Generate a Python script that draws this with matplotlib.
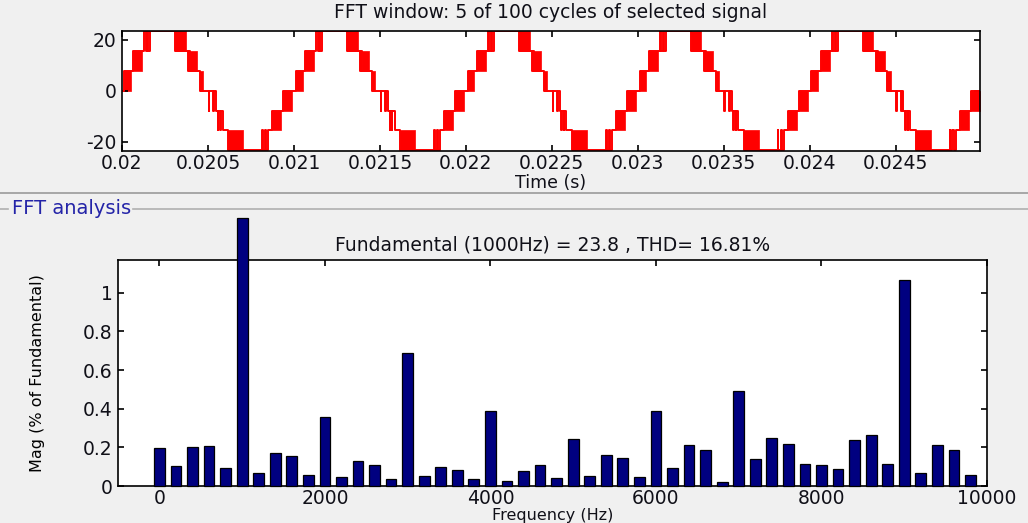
import matplotlib
matplotlib.use("Agg")
import matplotlib.pyplot as plt
from matplotlib.lines import Line2D
import numpy as np

# ---------------- data ----------------
# Top: one cycle of the multilevel PWM waveform (phase within cycle, level after switch)
step_phase = [0.000, 0.010, 0.065, 0.130, 0.137, 0.147, 0.153, 0.165, 0.307, 0.383,
              0.391, 0.395, 0.452, 0.504, 0.508, 0.529, 0.536, 0.545, 0.556, 0.560,
              0.569, 0.573, 0.585, 0.619, 0.814, 0.818, 0.830, 0.840, 0.849, 0.874,
              0.935, 0.988]
step_level = [0, 7.8, 15.6, 23.4, 15.6, 23.4, 15.6, 23.4, 15.6, 7.8,
              15.6, 7.8, 0, -7.8, 0, -7.8, 0, -7.8, -15.6, -7.8,
              -15.6, -7.8, -15.6, -23.4, -15.6, -23.4, -15.6, -23.4, -15.6, -7.8,
              0, 0]
# dense-switching bands (phase start, phase end, low level, high level)
block_start = [0.010, 0.065, 0.307, 0.395, 0.452, 0.619, 0.874, 0.935]
block_end   = [0.050, 0.115, 0.370, 0.437, 0.471, 0.705, 0.925, 0.988]
block_low   = [0.0, 7.8, 15.6, 7.8, 0.0, -23.4, -15.6, -7.8]
block_high  = [7.8, 15.6, 23.4, 15.6, 7.8, -15.6, -7.8, 0.0]
t_start = 0.02
cycle_period = 0.001
n_cycles = 5
time_ticks = [0.02, 0.0205, 0.021, 0.0215, 0.022, 0.0225, 0.023, 0.0235, 0.024, 0.0245]
time_tick_labels = ["0.02", "0.0205", "0.021", "0.0215", "0.022", "0.0225",
                    "0.023", "0.0235", "0.024", "0.0245"]

# Bottom: harmonic spectrum
freqs = list(range(0, 10000, 200))
mags = [0.195, 0.104, 0.200, 0.207, 0.093, 1.385, 0.066, 0.173, 0.155, 0.059,
        0.359, 0.048, 0.128, 0.111, 0.038, 0.691, 0.054, 0.098, 0.083, 0.038,
        0.389, 0.024, 0.076, 0.111, 0.043, 0.242, 0.054, 0.162, 0.145, 0.048,
        0.389, 0.093, 0.212, 0.185, 0.019, 0.492, 0.140, 0.247, 0.218, 0.116,
        0.111, 0.088, 0.237, 0.264, 0.116, 1.066, 0.066, 0.212, 0.185, 0.059]
freq_ticks = [0, 2000, 4000, 6000, 8000, 10000]
mag_ticks = [0, 0.2, 0.4, 0.6, 0.8, 1.0]
mag_tick_labels = ["0", "0.2", "0.4", "0.6", "0.8", "1"]

# ---------------- figure ----------------
plt.rcParams['font.family'] = ['DejaVu Sans']
W, H = 1028, 523
fig = plt.figure(figsize=(W / 100, H / 100), dpi=100, facecolor='#f0f0f0')
txt = '#101018'
fs = 13.5

def frac(x0, y0, x1, y1):
    return [x0 / W, 1 - y1 / H, (x1 - x0) / W, (y1 - y0) / H]

# ---- top axes ----
ax1 = fig.add_axes(frac(122, 31, 980, 151))
ax1.set_facecolor('white')
tt, yy = [], []
for c in range(n_cycles):
    for p, lv in zip(step_phase, step_level):
        tt.append(t_start + (c + p) * cycle_period)
        yy.append(lv)
tt.append(t_start + n_cycles * cycle_period)
yy.append(step_level[-1])
ax1.plot(tt, yy, drawstyle='steps-post', color='red', lw=1.4)
for c in range(n_cycles):
    for b0, b1, lo, hi in zip(block_start, block_end, block_low, block_high):
        ta = t_start + (c + b0) * cycle_period
        tb = t_start + (c + b1) * cycle_period
        ax1.fill_between([ta, tb], [lo, lo], [hi, hi], color='red', lw=0.5,
                         edgecolor='red')
ax1.set_xlim(0.02, 0.02499)
ax1.set_ylim(-23.7, 23.5)
ax1.set_xticks(time_ticks)
ax1.set_xticklabels(time_tick_labels)
ax1.set_yticks([-20, 0, 20])
ax1.set_yticklabels(["-20", "0", "20"])
ax1.set_title("FFT window: 5 of 100 cycles of selected signal", fontsize=fs,
              color=txt, pad=9)

# ---- bottom axes ----
ax2 = fig.add_axes(frac(118, 260, 987, 486))
ax2.set_facecolor('white')
ax2.bar(freqs, mags, width=130, color='#000080', edgecolor='black', lw=0.9,
        clip_on=False, zorder=3)
ax2.set_xlim(-500, 10000)
ax2.set_ylim(0, 1.17)
ax2.set_xticks(freq_ticks)
ax2.set_xticklabels([str(f) for f in freq_ticks])
ax2.set_yticks(mag_ticks)
ax2.set_yticklabels(mag_tick_labels)
ax2.set_title("Fundamental (1000Hz) = 23.8 , THD= 16.81%", fontsize=fs,
              color=txt, pad=7)
ax2.set_ylabel("Mag (% of Fundamental)", fontsize=11.5, color='black', labelpad=27)

for ax in (ax1, ax2):
    ax.tick_params(direction='in', length=4, width=1.2, top=True, right=True,
                   labelsize=fs, labelcolor=txt, pad=4)
    for s in ax.spines.values():
        s.set_linewidth(1.2)
        s.set_color('black')
ax1.tick_params(axis='x', pad=2)
ax2.tick_params(axis='x', pad=2)
ax1.set_xlabel("Time (s)", fontsize=12.5, color=txt, labelpad=1)
ax2.set_xlabel("Frequency (Hz)", fontsize=11.5, color=txt, labelpad=0)

# panel separators
fig.add_artist(Line2D([0, 1], [1 - 193 / H, 1 - 193 / H], color='#9a9a9a', lw=1.2))
fig.add_artist(Line2D([0, 8 / W], [1 - 209 / H, 1 - 209 / H], color='#b0b0b0', lw=1.2))
lab = fig.text(12 / W, 1 - 209 / H, "FFT analysis", color='#2424a8', fontsize=14,
               va='center', ha='left')
fig.canvas.draw()
bb = lab.get_window_extent()
fig.add_artist(Line2D([(bb.x1 + 2) / W, 1], [1 - 209 / H, 1 - 209 / H],
                      color='#b0b0b0', lw=1.2))

fig.savefig("out.png", dpi=100, facecolor=fig.get_facecolor())
